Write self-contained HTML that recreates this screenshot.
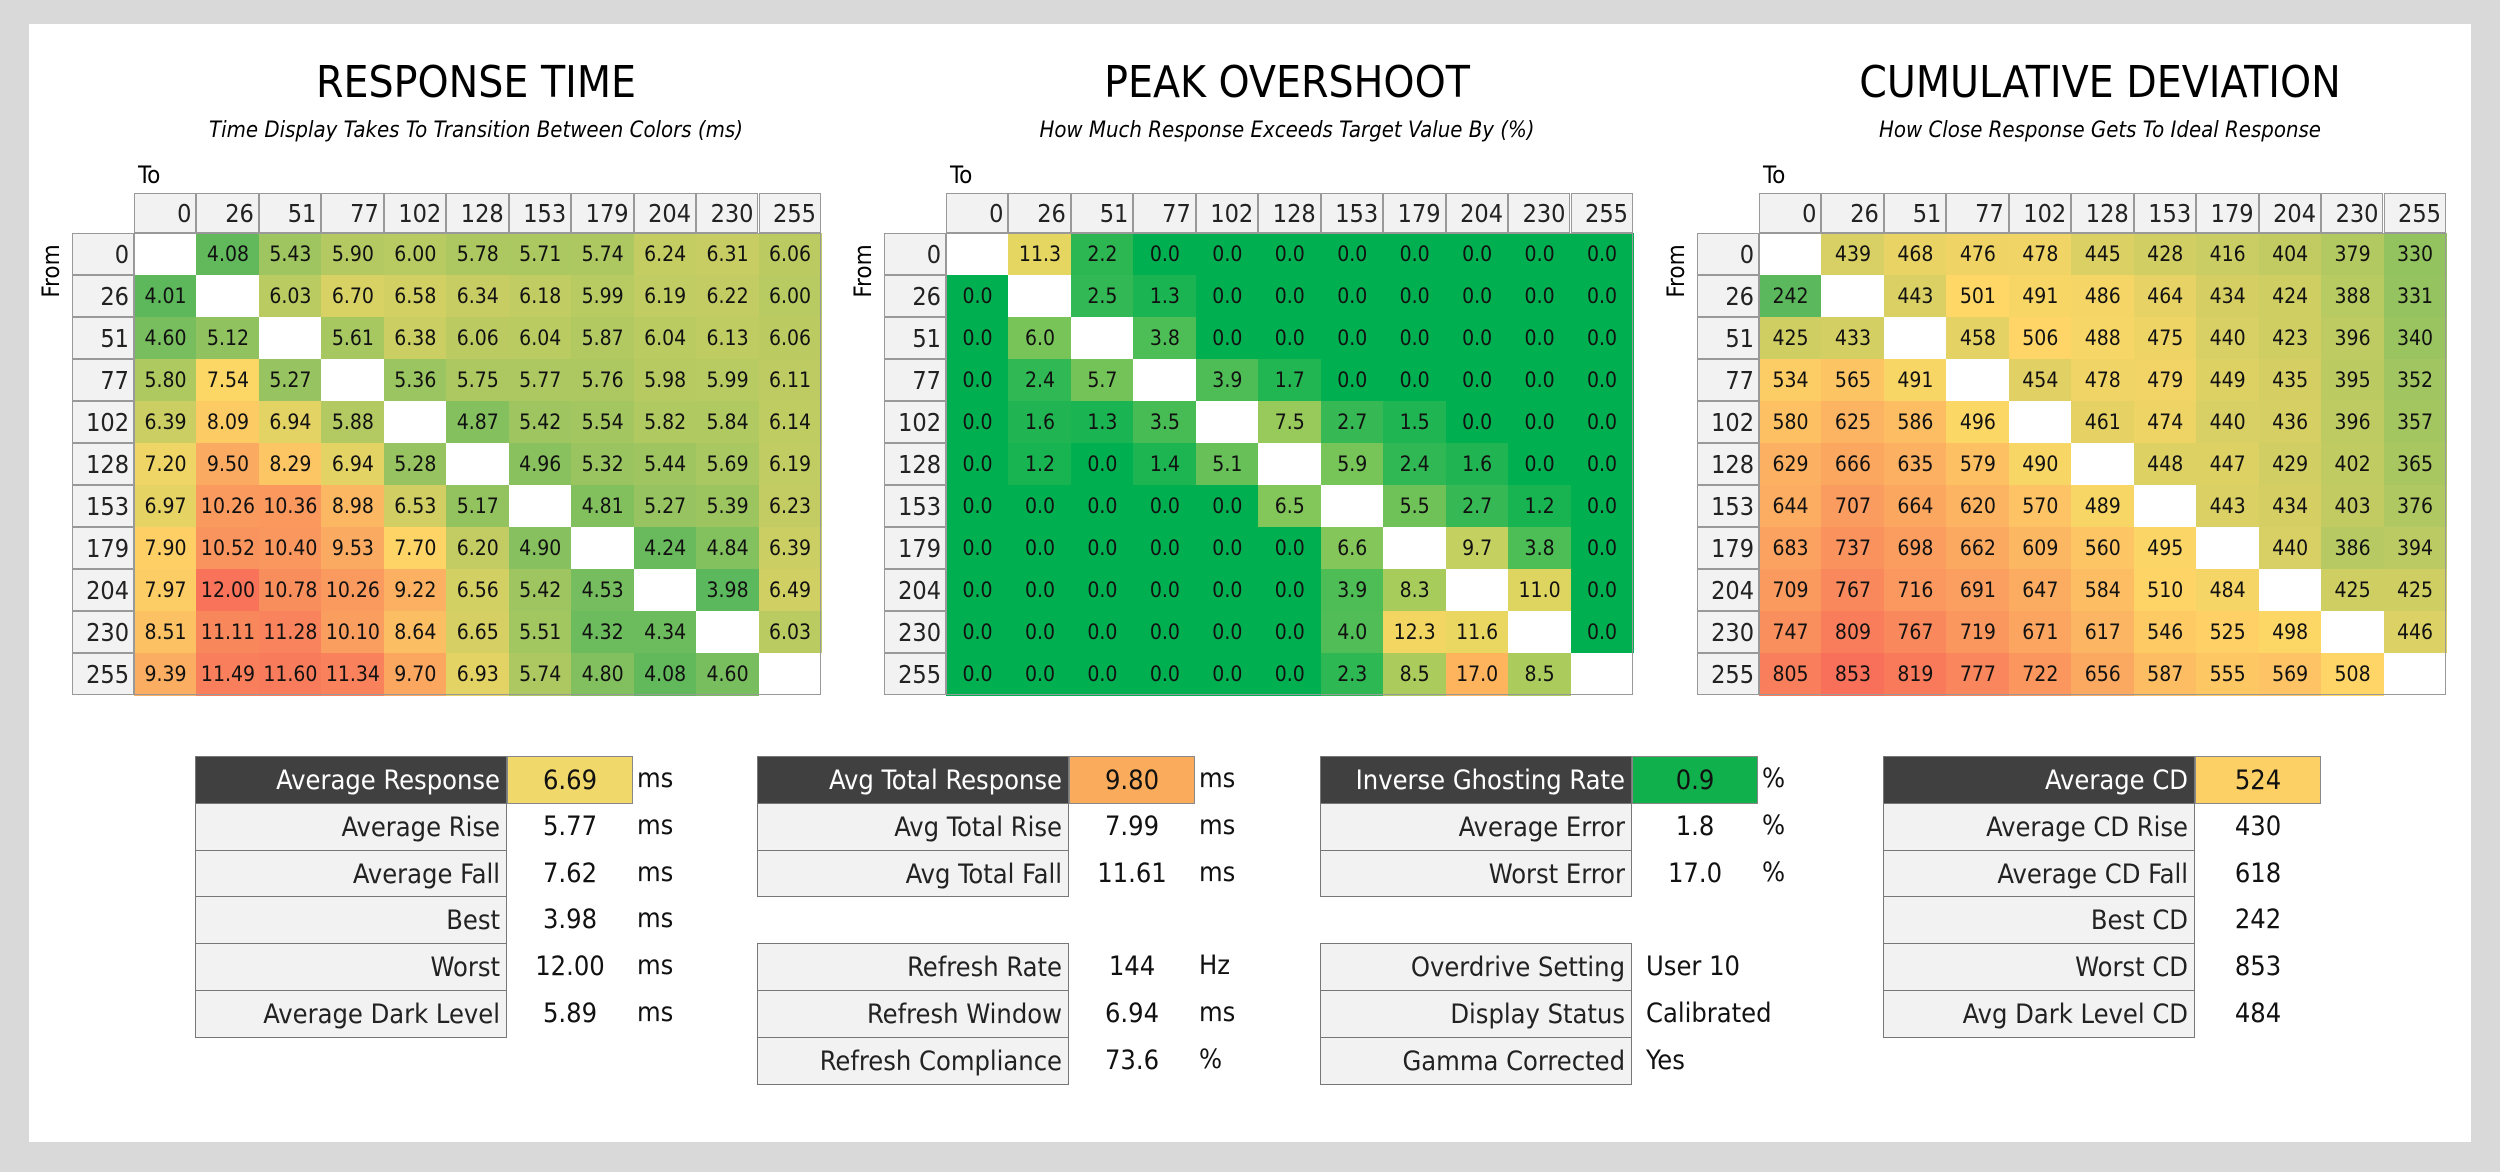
<!DOCTYPE html>
<html><head><meta charset="utf-8">
<style>
body{margin:0;width:2500px;height:1172px;background:#d9d9d9;overflow:hidden;font-family:"DejaVu Sans Condensed","Liberation Sans",sans-serif;}
#panel{position:absolute;left:29px;top:24px;width:2442px;height:1118px;background:#fff;}
.abs{position:absolute;box-sizing:border-box;}
.title{font-size:44px;color:#000;text-align:center;width:800px;white-space:nowrap;}
.sub{font-size:22px;font-style:italic;text-align:center;width:800px;white-space:nowrap;}
.hd{background:#f2f2f2;border:1px solid #999;font-size:25px;text-align:right;padding-right:4px;color:#222;}
.cell{font-size:21px;text-align:center;color:#111;}
.lab{background:#f2f2f2;border:1.5px solid #777;font-size:27px;text-align:right;padding-right:6px;color:#222;white-space:nowrap;}
.labd{background:#404040;color:#fff;}
.val{font-size:27px;text-align:center;color:#111;}
.unit{font-size:27px;color:#111;}
</style></head><body>
<div id="panel"></div>
<script>
const grayLevels=["0","26","51","77","102","128","153","179","204","230","255"];
const rtValues=[
[null,4.08,5.43,5.90,6.00,5.78,5.71,5.74,6.24,6.31,6.06],
[4.01,null,6.03,6.70,6.58,6.34,6.18,5.99,6.19,6.22,6.00],
[4.60,5.12,null,5.61,6.38,6.06,6.04,5.87,6.04,6.13,6.06],
[5.80,7.54,5.27,null,5.36,5.75,5.77,5.76,5.98,5.99,6.11],
[6.39,8.09,6.94,5.88,null,4.87,5.42,5.54,5.82,5.84,6.14],
[7.20,9.50,8.29,6.94,5.28,null,4.96,5.32,5.44,5.69,6.19],
[6.97,10.26,10.36,8.98,6.53,5.17,null,4.81,5.27,5.39,6.23],
[7.90,10.52,10.40,9.53,7.70,6.20,4.90,null,4.24,4.84,6.39],
[7.97,12.00,10.78,10.26,9.22,6.56,5.42,4.53,null,3.98,6.49],
[8.51,11.11,11.28,10.10,8.64,6.65,5.51,4.32,4.34,null,6.03],
[9.39,11.49,11.60,11.34,9.70,6.93,5.74,4.80,4.08,4.60,null]];
const osValues=[
[null,11.3,2.2,0,0,0,0,0,0,0,0],
[0,null,2.5,1.3,0,0,0,0,0,0,0],
[0,6.0,null,3.8,0,0,0,0,0,0,0],
[0,2.4,5.7,null,3.9,1.7,0,0,0,0,0],
[0,1.6,1.3,3.5,null,7.5,2.7,1.5,0,0,0],
[0,1.2,0,1.4,5.1,null,5.9,2.4,1.6,0,0],
[0,0,0,0,0,6.5,null,5.5,2.7,1.2,0],
[0,0,0,0,0,0,6.6,null,9.7,3.8,0],
[0,0,0,0,0,0,3.9,8.3,null,11.0,0],
[0,0,0,0,0,0,4.0,12.3,11.6,null,0],
[0,0,0,0,0,0,2.3,8.5,17.0,8.5,null]];
const cdValues=[
[null,439,468,476,478,445,428,416,404,379,330],
[242,null,443,501,491,486,464,434,424,388,331],
[425,433,null,458,506,488,475,440,423,396,340],
[534,565,491,null,454,478,479,449,435,395,352],
[580,625,586,496,null,461,474,440,436,396,357],
[629,666,635,579,490,null,448,447,429,402,365],
[644,707,664,620,570,489,null,443,434,403,376],
[683,737,698,662,609,560,495,null,440,386,394],
[709,767,716,691,647,584,510,484,null,425,425],
[747,809,767,719,671,617,546,525,498,null,446],
[805,853,819,777,722,656,587,555,569,508,null]];
const chartTitles=["RESPONSE TIME","PEAK OVERSHOOT","CUMULATIVE DEVIATION"];
const chartSubtitles=["Time Display Takes To Transition Between Colors (ms)","How Much Response Exceeds Target Value By (%)","How Close Response Gets To Ideal Response"];
const rtStats=[["Average Response","6.69","ms"],["Average Rise","5.77","ms"],["Average Fall","7.62","ms"],["Best","3.98","ms"],["Worst","12.00","ms"],["Average Dark Level","5.89","ms"]];
const osStats=[["Avg Total Response","9.80","ms"],["Avg Total Rise","7.99","ms"],["Avg Total Fall","11.61","ms"],null,["Refresh Rate","144","Hz"],["Refresh Window","6.94","ms"],["Refresh Compliance","73.6","%"]];
const igStats=[["Inverse Ghosting Rate","0.9","%"],["Average Error","1.8","%"],["Worst Error","17.0","%"],null,["Overdrive Setting","User 10",""],["Display Status","Calibrated",""],["Gamma Corrected","Yes",""]];
const cdStats=[["Average CD","524",""],["Average CD Rise","430",""],["Average CD Fall","618",""],["Best CD","242",""],["Worst CD","853",""],["Avg Dark Level CD","484",""]];

const P=document.getElementById('panel');
const OX=29,OY=24;
function hex(c){return [parseInt(c.slice(1,3),16),parseInt(c.slice(3,5),16),parseInt(c.slice(5,7),16)];}
function scale(stops){return v=>{for(let i=1;i<stops.length;i++){if(v<=stops[i][0]||i==stops.length-1){const a=stops[i-1],b=stops[i];let t=(v-a[0])/(b[0]-a[0]);t=Math.max(0,Math.min(1,t));const A=hex(a[1]),B=hex(b[1]);return 'rgb('+A.map((x,k)=>Math.round(x+(B[k]-x)*t)).join(',')+')';}}};}
function box(cls,x,y,w,h,txt,name,extra){const d=document.createElement('div');d.className='abs '+cls;d.style.left=(x-OX)+'px';d.style.top=(y-OY)+'px';if(w!=null)d.style.width=w+'px';if(h!=null){d.style.height=h+'px';d.style.lineHeight=h+'px';}if(txt!=null)d.textContent=txt;if(extra)Object.assign(d.style,extra);


P.appendChild(d);return d;}

const gridX=[134,946,1759],titleCX=[476,1287,2100];
const datasets=[rtValues,osValues,cdValues];
const colorFns=[
 scale([[3.98,'#5cb85c'],[7.5,'#fdd866'],[12,'#f8735a']]),
 scale([[0,'#00b050'],[12,'#f2d862'],[17,'#fdb45c']]),
 scale([[242,'#5cb85c'],[500,'#fed766'],[853,'#f8705a']])];
const fmts=[v=>v.toFixed(2),v=>v.toFixed(1),v=>String(v)];
const CW=62.45,RH=42,HT=193,RT=233;
for(let c=0;c<3;c++){
 const gx=gridX[c];
 box('title',titleCX[c]-400,56,800,54,chartTitles[c],'chart-title-'+(c+1));
 box('sub',titleCX[c]-400,116,800,30,chartSubtitles[c],'chart-subtitle-'+(c+1));
 box('',gx+4,158,60,34,'To','to-axis-label',{fontSize:'24px'});
 box('',gx-123,271-17,80,34,'From','from-axis-label',{fontSize:'24px',transform:'rotate(-90deg)',textAlign:'center'});
 for(let i=0;i<11;i++){
  box('hd',gx+i*CW,HT,CW,40,grayLevels[i],'to-header-'+grayLevels[i]);
  box('hd',gx-62,RT+i*RH,62,RH,grayLevels[i],'from-header-'+grayLevels[i]);
  for(let j=0;j<11;j++){const v=datasets[c][i][j];
   box('cell',gx+j*CW,RT+i*RH,CW+0.6,RH+0.6,v==null?'':fmts[c](v),'heatmap-cell',{background:v==null?'#fff':colorFns[c](v)});}
 }
 box('',gx,RT,11*CW,11*RH,null,'heatmap-border',{border:'1px solid #999'});
}
const tabX=[195,757,1320,1883],RH2=46.8,TY=756;
const tabs=[rtStats,osStats,igStats,cdStats];
const hl=['#f0d86a','#fbab5c','#10b04c','#fdd065'];
for(let t=0;t<4;t++){const x=tabX[t];
 tabs[t].forEach((r,i)=>{if(!r)return;const y=TY+i*RH2;
  box('lab'+(i==0?' labd':''),x,y,312,RH2+1,r[0],'stat-label');
  box('val',x+312,y,126,RH2+1,r[1],'stat-value',i==0?{background:hl[t],border:'1.5px solid #888'}:{textAlign:t==2&&i>3?'left':'center',paddingLeft:t==2&&i>3?'14px':'0'});
  if(r[2])box('unit',x+442,y,60,RH2,r[2],'stat-unit');
 });}
</script>
</body></html>
